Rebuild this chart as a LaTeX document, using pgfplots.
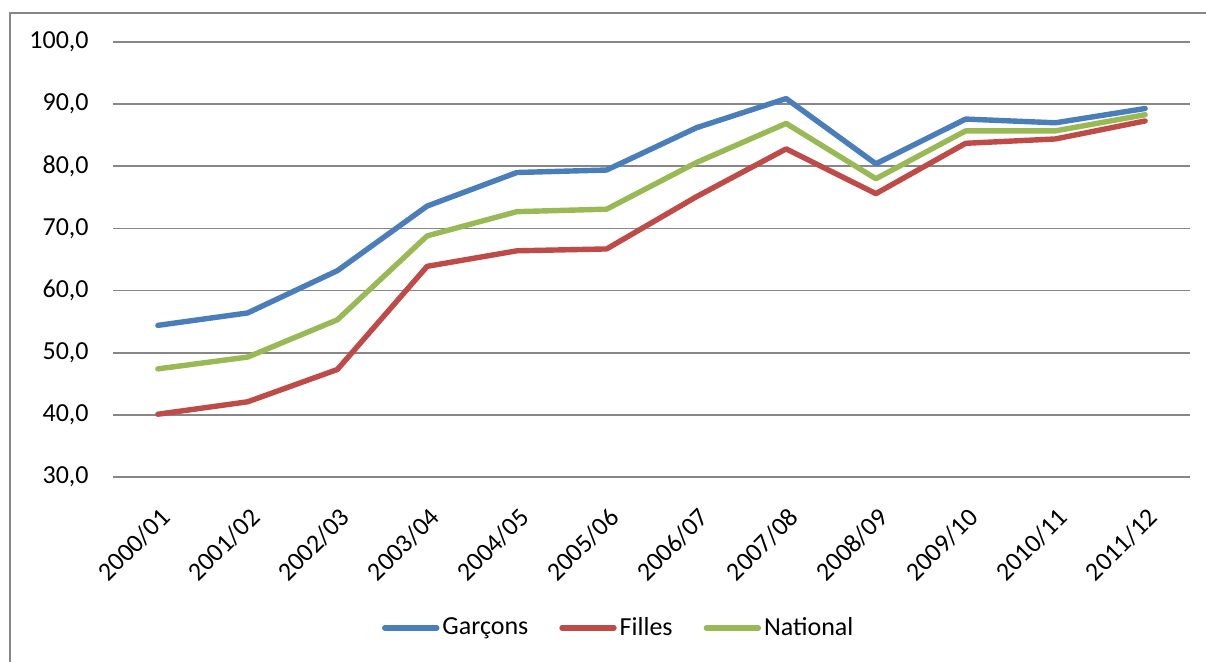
\documentclass[border=0pt]{standalone}
\usepackage{fontspec}
\setmainfont{Carlito}
\usepackage{pgfplots}
\pgfplotsset{compat=1.18}
\definecolor{garcons}{HTML}{4A7EBB}
\definecolor{filles}{HTML}{BE4B48}
\definecolor{national}{HTML}{98B954}
\definecolor{gridgray}{HTML}{878787}

\begin{document}
\begin{tikzpicture}
% the picture is 1206x662 px at 0.5pt per px
\useasboundingbox (0,0) rectangle (603pt,-331pt);
\draw[gridgray, line width=0.9pt] (5pt,-6.5pt) rectangle (620pt,-345pt);
\begin{axis}[
  at={(56.5pt,-238.5pt)}, anchor=south west,
  scale only axis, width=538.5pt, height=217.5pt,
  xmin=-0.5, xmax=11.5, ymin=30, ymax=100,
  ytick={30,40,...,100},
  xtick={0,...,11},
  xticklabels={2000/01,2001/02,2002/03,2003/04,2004/05,2005/06,2006/07,2007/08,2008/09,2009/10,2010/11,2011/12},
  ymajorgrids,
  major grid style={gridgray, line width=0.9pt},
  axis line style={draw=none},
  tick style={draw=none},
  /pgf/number format/assume math mode=true,
  yticklabel style={/pgf/number format/fixed, /pgf/number format/fixed zerofill,
    /pgf/number format/precision=1, /pgf/number format/use comma},
  ticklabel style={font=\fontsize{13}{15.5}\selectfont, inner sep=0pt},
  yticklabel style={anchor=east, xshift=-12pt},
  xticklabel style={xshift=4pt, yshift=-18pt, rotate=45, anchor=east},
  legend style={at={(0.470,-0.347)}, anchor=center, draw=none, fill=none,
    legend columns=-1, font=\fontsize{13}{15.5}\selectfont,
    nodes={inner xsep=1.5pt},
    /tikz/every even column/.append style={column sep=14pt}},
  legend image code/.code={\draw[#1, line width=2.7pt, line cap=round] (0pt,0pt) -- (26pt,0pt);},
  every axis plot/.append style={line width=2.7pt, line join=round, line cap=round, mark=none},
]
\addplot[garcons] coordinates {(0,54.4) (1,56.4) (2,63.2) (3,73.6) (4,79.0) (5,79.4) (6,86.2) (7,90.9) (8,80.4) (9,87.6) (10,87.0) (11,89.3)};
\addlegendentry{Garçons}
\addplot[filles] coordinates {(0,40.1) (1,42.1) (2,47.3) (3,63.9) (4,66.4) (5,66.7) (6,75.1) (7,82.8) (8,75.6) (9,83.7) (10,84.4) (11,87.3)};
\addlegendentry{Filles}
\addplot[national] coordinates {(0,47.4) (1,49.3) (2,55.3) (3,68.8) (4,72.7) (5,73.1) (6,80.6) (7,86.9) (8,78.0) (9,85.7) (10,85.7) (11,88.3)};
\addlegendentry{National}
\end{axis}
\end{tikzpicture}
\end{document}
